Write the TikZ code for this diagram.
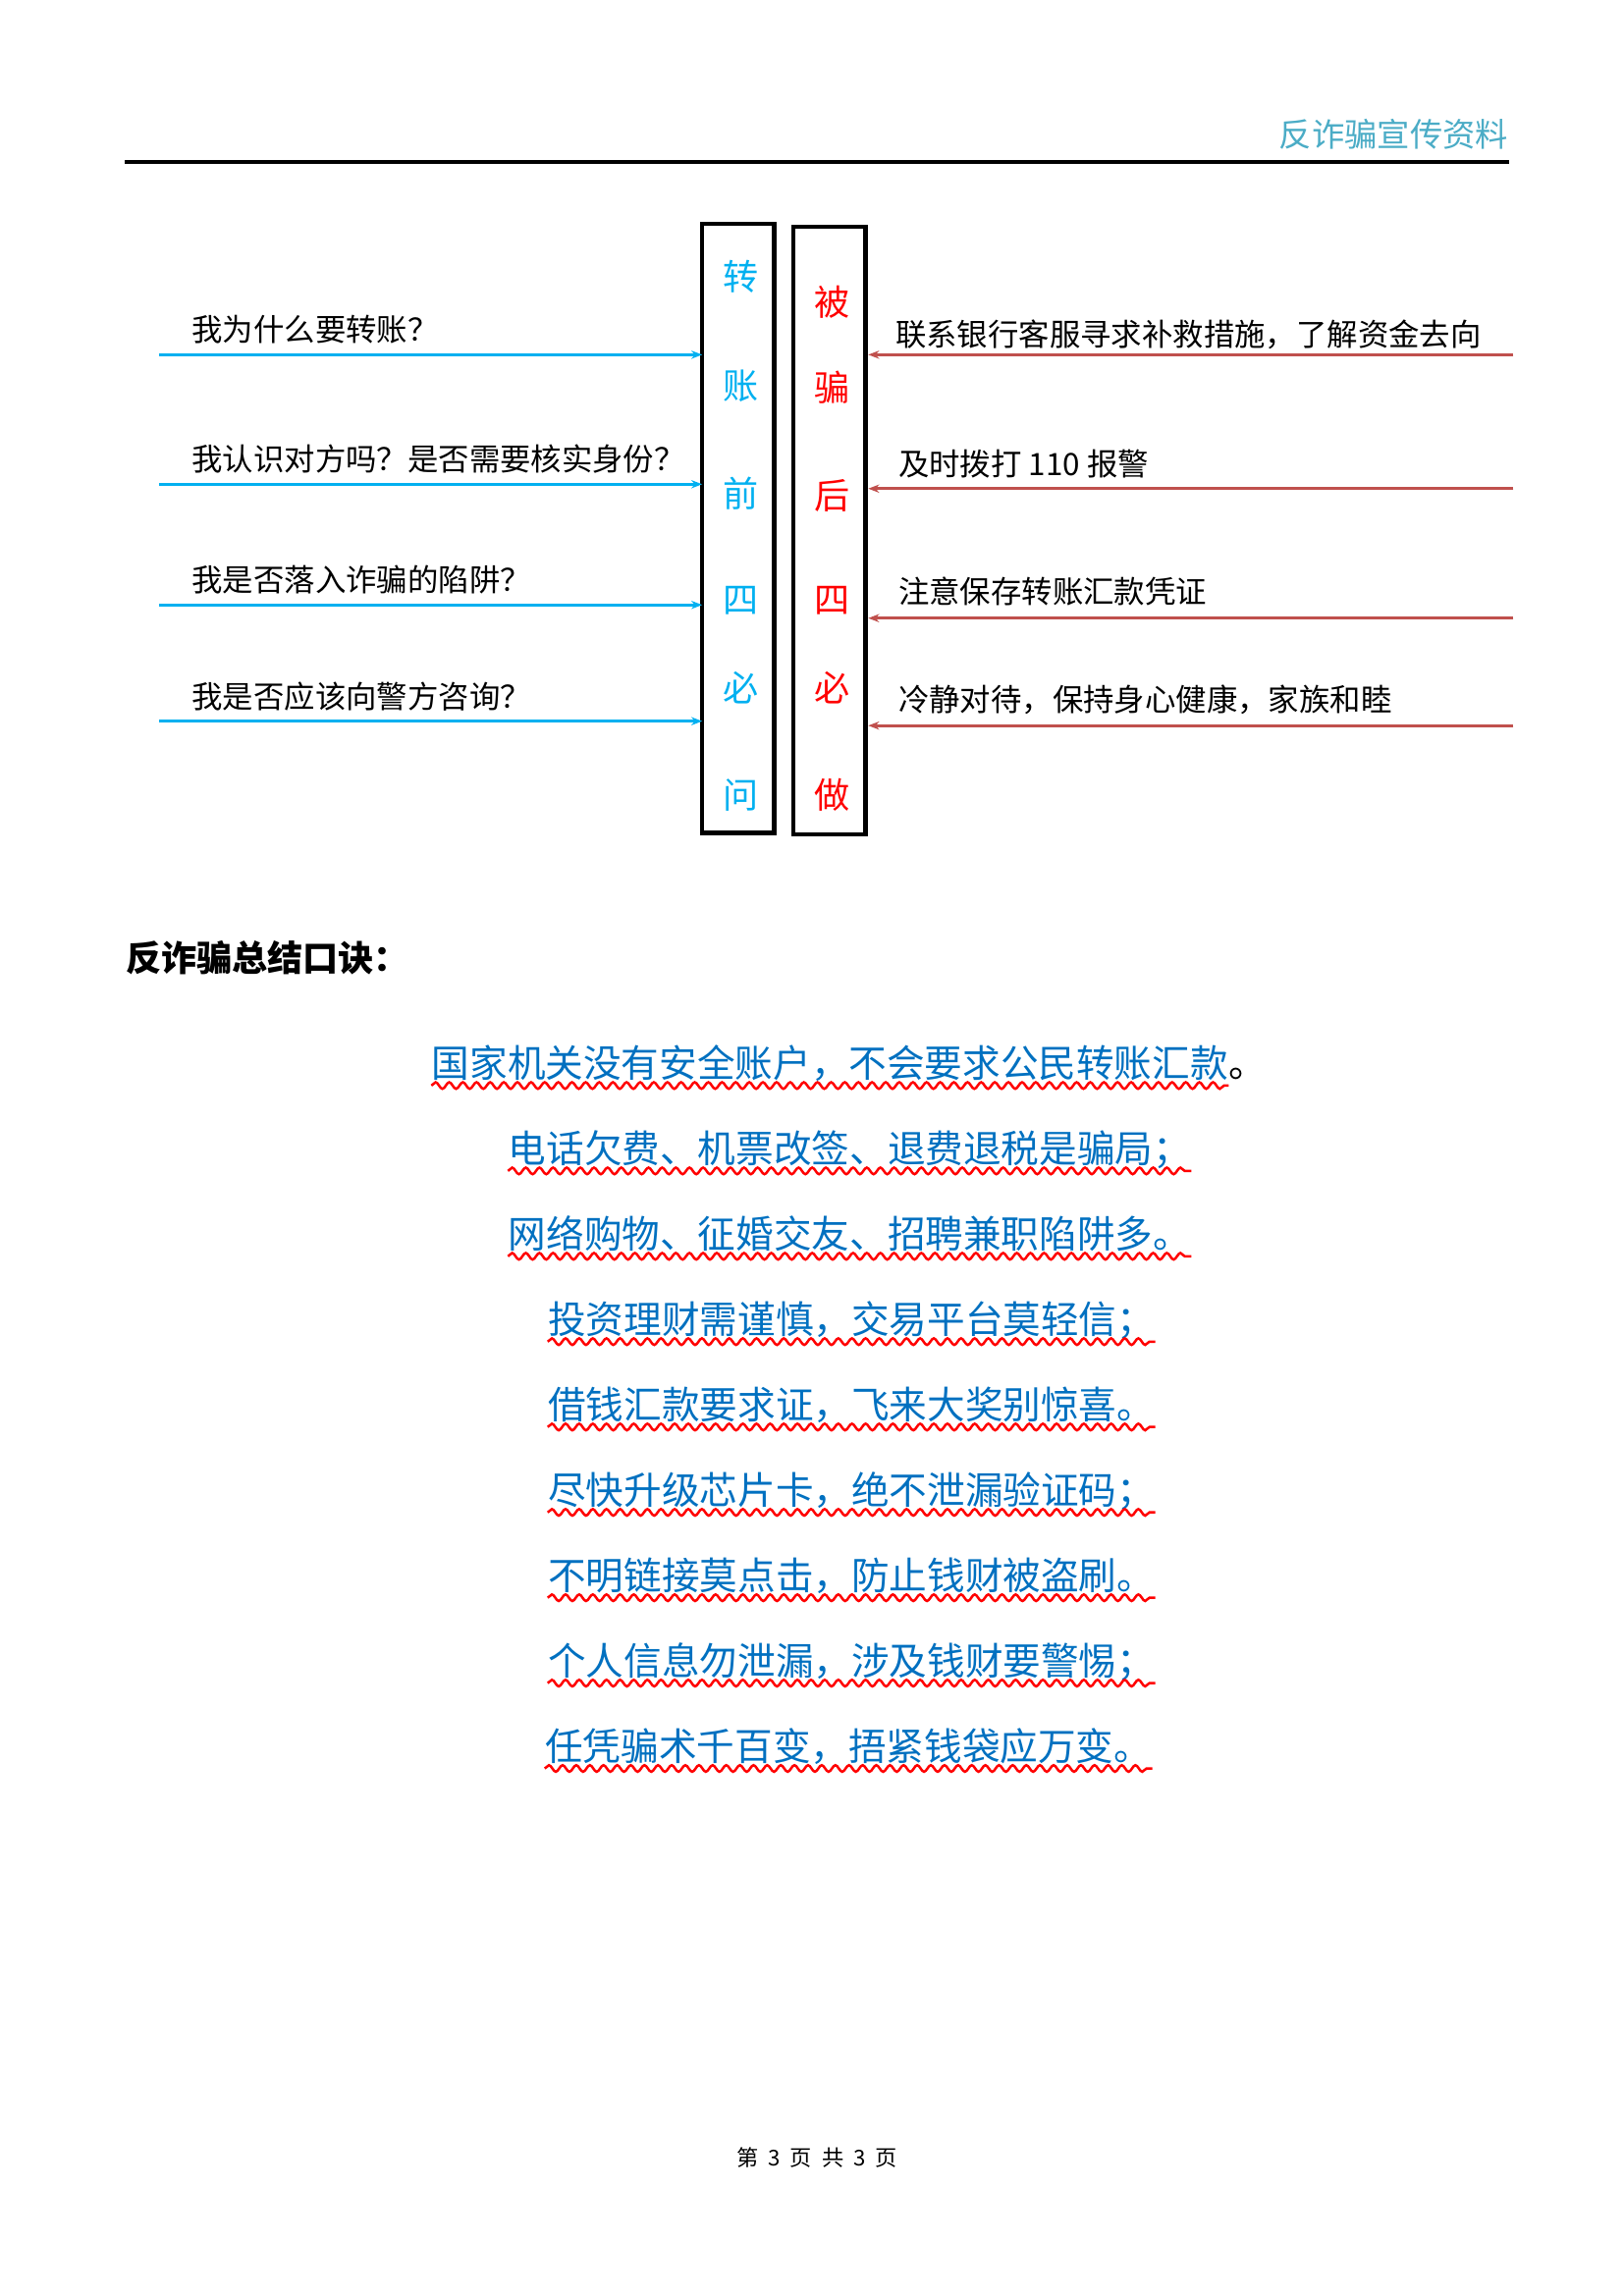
\documentclass[tikz,border=0pt]{standalone}
\usepackage{fontspec}
\setmainfont{Noto Sans CJK SC}
\usetikzlibrary{arrows.meta,decorations.pathmorphing}
\definecolor{askblue}{HTML}{00B0F0}
\definecolor{dored}{HTML}{C0504D}
\definecolor{headblue}{HTML}{4BACC6}
\definecolor{poemblue}{HTML}{0070C0}
\tikzset{
  colbox/.style = {draw, line width=1.5pt, minimum width=26.4pt, inner sep=0,
    outer sep=0, anchor=north west},
  boxchar/.style = {font=\fontsize{13}{13}\selectfont},
  qtext/.style = {anchor=base west, inner sep=0, font=\fontsize{11.3}{12}\selectfont},
  askline/.style = {askblue, line width=1pt, -{Stealth[length=4pt]}},
  doline/.style = {dored, line width=1pt, -{Stealth[length=4pt]}},
  poem/.style = {anchor=base west, inner sep=0, text=poemblue,
    font=\fontsize{13.9}{14}\selectfont},
  wavy/.style = {red, line width=0.9pt, decorate,
    decoration={snake, amplitude=1.2pt, segment length=5pt}}
}
\begin{document}
\begin{tikzpicture}[x=0.5397pt, y=-0.5397pt]
  \useasboundingbox (0,0) rectangle (1103,1560);
  % header
  \node [anchor=base east, inner sep=0, text=headblue,
    font=\fontsize{12}{12}\selectfont\itshape] (head) at (1025,100) {反诈骗宣传资料};
  \draw [line width=1.2pt] (85,110) -- (1025,110);

  % the two boxes
  \node [colbox, minimum height=223.4pt] (askbox) at (477,152) {};
  \node [colbox, minimum height=222.9pt] (dobox) at (539,154) {};
  \foreach \c/\y in {转/188, 账/262, 前/335, 四/408, 必/467, 问/540}
    \node [boxchar, text=askblue] at (503,\y) {\c};
  \foreach \c/\y in {被/205, 骗/263, 后/337, 四/408, 必/467, 做/540}
    \node [boxchar, text=red] at (565,\y) {\c};

  % questions before the transfer
  \foreach \t/\y [count=\i] in {我为什么要转账？/241, 我认识对方吗？是否需要核实身份？/329,
      我是否落入诈骗的陷阱？/411, 我是否应该向警方咨询？/490} {
    \coordinate (qs\i) at (108,\y);
    \coordinate (qe\i) at (askbox.west |- qs\i);
    \node [qtext] (q\i) at (130,\y-9) {\t};
    \draw [askline] (qs\i) -- (qe\i);
  }
  % things to do afterwards
  \foreach \y [count=\i] in {241, 332, 420, 493} {
    \coordinate (ds\i) at (1028,\y);
    \coordinate (de\i) at ([xshift=1pt]dobox.east |- ds\i);
    \draw [doline] (ds\i) -- (de\i);
  }
  \node [qtext] (d1) at (608,235) {联系银行客服寻求补救措施，了解资金去向};
  \node [qtext] (d2) at (610,323) {及时拨打 110 报警};
  \node [qtext] (d3) at (610,410) {注意保存转账汇款凭证};
  \node [qtext] (d4) at (610,483) {冷静对待，保持身心健康，家族和睦};

  % summary
  \node [anchor=base west, inner sep=0, font=\fontsize{13}{13}\selectfont\bfseries]
    (sum) at (85,660) {反诈骗总结口诀：};
  \node [poem] (p1) at (293,732) {国家机关没有安全账户，不会要求公民转账汇款};
  \node [anchor=base west, inner sep=0, font=\fontsize{13.9}{14}\selectfont] (p1dot) at (p1.base east) {。};
  \foreach \t/\x/\y [count=\i from 2] in {电话欠费、机票改签、退费退税是骗局；/345/790,
      网络购物、征婚交友、招聘兼职陷阱多。/345/848,
      投资理财需谨慎，交易平台莫轻信；/372/906,
      借钱汇款要求证，飞来大奖别惊喜。/372/964,
      尽快升级芯片卡，绝不泄漏验证码；/372/1022,
      不明链接莫点击，防止钱财被盗刷。/372/1080,
      个人信息勿泄漏，涉及钱财要警惕；/372/1138,
      任凭骗术千百变，捂紧钱袋应万变。/370/1196}
    \node [poem] (p\i) at (\x,\y) {\t};
  \foreach \i in {1,...,9}
    \draw [wavy] ([yshift=-3pt]p\i.base west) -- ([yshift=-3pt]p\i.base east);

  % footer
  \node [font=\fontsize{8}{8}\selectfont] (foot) at (555,1466) {第\ \ 3\ \ 页\ \ 共\ \ 3\ \ 页};
\end{tikzpicture}
\end{document}
